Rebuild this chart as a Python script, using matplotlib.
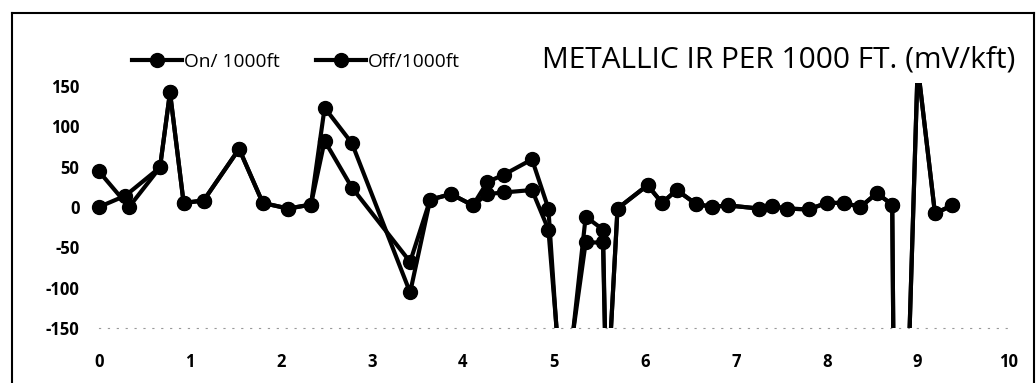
import numpy as np
import matplotlib
matplotlib.use("Agg")
import matplotlib.pyplot as plt
from matplotlib.lines import Line2D
from matplotlib.transforms import Bbox, TransformedBbox

plt.rcParams['font.family'] = ['Open Sans', 'DejaVu Sans']
plt.rcParams['axes.unicode_minus'] = False

# distance along the line (x) and metallic IR per 1000 ft (mV/kft)
x_on = [0, 0.33, 0.67, 0.78, 0.93, 1.15, 1.54, 1.80, 2.08, 2.33,
        2.48, 2.78, 3.42, 3.64, 3.87, 4.11, 4.27, 4.45, 4.76, 4.94,
        5.10, 5.35, 5.54, 5.58, 5.70, 6.03, 6.19, 6.35, 6.56, 6.74,
        6.91, 7.26, 7.40, 7.56, 7.80, 8.00, 8.19, 8.37, 8.55, 8.72,
        8.77, 9.00, 9.19, 9.38]
on_1000 = [44, 0, 49, 142, 5, 8, 72, 5, -2, 3,
           123, 79, -106, 9, 16, 2, 31, 40, 59, -2,
           -270, -12, -28, -250, -2, 27, 5, 21, 4, 0,
           2, -2, 1, -2, -3, 5, 5, 0, 17, 3,
           -670, 175, -8, 2]

x_off = [0, 0.29, 0.67, 0.78, 0.93, 1.15, 1.54, 1.80, 2.08, 2.33,
         2.48, 2.78, 3.42, 3.64, 3.87, 4.11, 4.27, 4.45, 4.76, 4.94,
         5.10, 5.35, 5.54, 5.58, 5.70, 6.03, 6.19, 6.35, 6.56, 6.74,
         6.91, 7.26, 7.40, 7.56, 7.80, 8.00, 8.19, 8.37, 8.55, 8.72,
         8.77, 9.00, 9.19, 9.38]
off_1000 = [0, 14, 49, 142, 5, 8, 72, 5, -2, 3,
            82, 24, -68, 9, 16, 2, 16, 18, 21, -28,
            -245, -44, -44, -250, -2, 27, 5, 21, 4, 0,
            2, -2, 1, -2, -3, 5, 5, 0, 17, 3,
            -670, 175, -8, 2]

yticks = [150, 100, 50, 0, -50, -100, -150]
xticks = list(range(0, 11))

fig = plt.figure(figsize=(10.36, 3.83), dpi=100)
ax = fig.add_axes([0.0956, 0.1436, 0.878, 0.632])

l1, = ax.plot(x_on, on_1000, color='black', lw=3, marker='o', ms=10, label='On/ 1000ft')
l2, = ax.plot(x_off, off_1000, color='black', lw=3, marker='o', ms=10, label='Off/1000ft')
# clip at the value range, but leave room so edge markers stay whole
clip = TransformedBbox(Bbox([[-0.03, 0], [1.03, 1.012]]), ax.transAxes)
for ln in (l1, l2):
    ln.set_clip_box(clip)

ax.set_xlim(0, 10)
ax.set_ylim(-150, 150)
ax.set_xticks(xticks)
ax.set_yticks(yticks)
ax.tick_params(length=0, labelsize=12, pad=18)
ax.tick_params(axis='y', pad=14)
for lab in ax.get_xticklabels() + ax.get_yticklabels():
    lab.set_fontweight('bold')
for s in ['top', 'right', 'left']:
    ax.spines[s].set_visible(False)
ax.spines['bottom'].set_color('#999999')
ax.spines['bottom'].set_linewidth(0.8)
ax.spines['bottom'].set_linestyle((0, (1, 7)))

ax.legend(loc='center left', bbox_to_anchor=(0.111, 0.838), bbox_transform=fig.transFigure,
          ncol=2, frameon=False, fontsize=13.8, handlelength=2.6, columnspacing=1.9,
          handletextpad=0.1)

fig.text(0.98, 0.825, 'METALLIC IR PER 1000 FT. (mV/kft)', ha='right', va='baseline',
         fontsize=21.5)

# scanned page frame
fig.add_artist(Line2D([0.012, 0.012], [0, 0.966], transform=fig.transFigure, color='black', lw=1.5))
fig.add_artist(Line2D([0.012, 0.998], [0.966, 0.966], transform=fig.transFigure, color='black', lw=1.5))
fig.add_artist(Line2D([0.998, 0.998], [0, 0.966], transform=fig.transFigure, color='black', lw=1.5))

fig.savefig('out.png', dpi=100)
